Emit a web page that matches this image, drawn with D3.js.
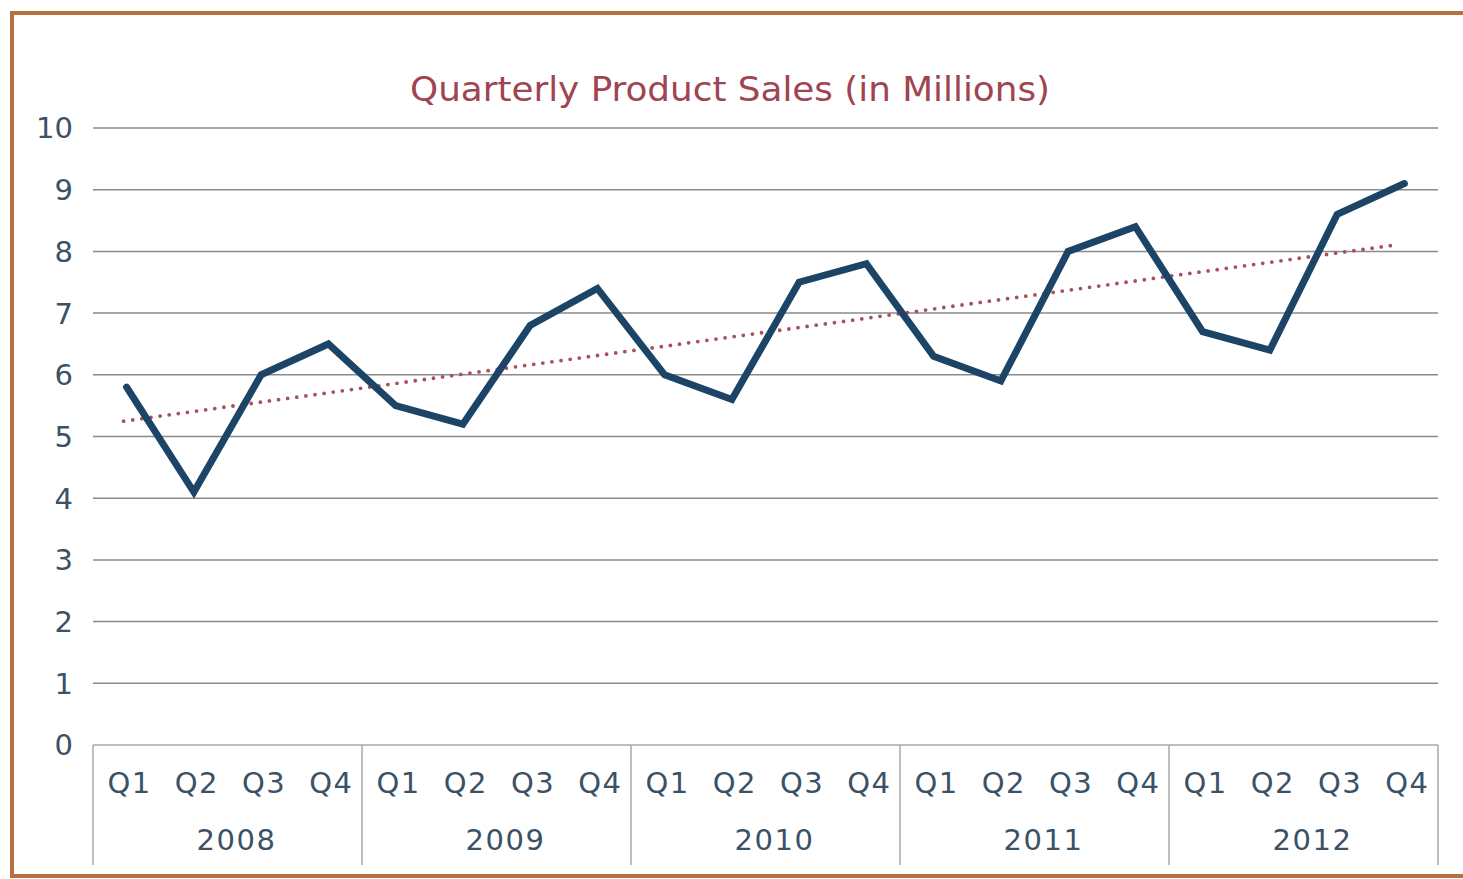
<!DOCTYPE html>
<html><head><meta charset="utf-8">
<script src="https://cdn.jsdelivr.net/npm/d3@7"></script>
<style>body{margin:0;background:#fff;}svg{display:block;}</style>
</head><body>
<svg id="c" width="1463" height="879"></svg>
<script>
const years = ["2008","2009","2010","2011","2012"];
const quarters = ["Q1","Q2","Q3","Q4"];
const sales = [5.8,4.1,6.0,6.5, 5.5,5.2,6.8,7.4, 6.0,5.6,7.5,7.8, 6.3,5.9,8.0,8.4, 6.7,6.4,8.6,9.1];
const yTicks = [0,1,2,3,4,5,6,7,8,9,10];
const title = "Quarterly Product Sales (in Millions)";

const svg = d3.select("#c");
const font = "'DejaVu Sans', Roboto, sans-serif";
const textCol = "#3b5166";

// frame
svg.append("rect").attr("x",12).attr("y",13).attr("width",1470).attr("height",863)
  .attr("fill","#fff").attr("stroke","#b8703e").attr("stroke-width",4);

const cats = [];
years.forEach(y => quarters.forEach(q => cats.push(y+"-"+q)));
const data = cats.map((c,i)=>({c, v:sales[i], i}));

const x = d3.scaleBand().domain(cats).range([93,1438]).padding(0);
const xYear = d3.scaleBand().domain(years).range([93,1438]);
const y = d3.scaleLinear().domain([0,10]).range([745,128]);

// gridlines
svg.append("g").selectAll("line").data(yTicks).join("line")
  .attr("x1",93).attr("x2",1438).attr("y1",d=>y(d)).attr("y2",d=>y(d))
  .attr("stroke",d=>d===0?"#a9a9a9":"#8a8a8a").attr("stroke-width",1.5);

// y labels
svg.append("g").selectAll("text").data(yTicks).join("text")
  .attr("x",73).attr("y",d=>y(d)).attr("dy","0.36em").attr("text-anchor","end")
  .attr("font-family",font).attr("font-size",29).attr("fill",textCol).text(d=>d);

// year separators
const seps = years.map(yr=>xYear(yr)).concat([xYear.range()[1]]);
svg.append("g").selectAll("line").data(seps).join("line")
  .attr("x1",d=>d).attr("x2",d=>d).attr("y1",745).attr("y2",865)
  .attr("stroke","#a9a9a9").attr("stroke-width",1.5);

// quarter labels
svg.append("g").selectAll("text").data(data).join("text")
  .attr("x",d=>x(d.c)+x.bandwidth()/2+3).attr("y",783).attr("dy","0.36em")
  .attr("text-anchor","middle").attr("font-family",font).attr("font-size",29)
  .attr("letter-spacing",1.5).attr("fill",textCol).text(d=>quarters[d.i%4]);

// year labels
svg.append("g").selectAll("text").data(years).join("text")
  .attr("x",d=>xYear(d)+xYear.bandwidth()/2+9).attr("y",840).attr("dy","0.36em")
  .attr("text-anchor","middle").attr("font-family",font).attr("font-size",29)
  .attr("letter-spacing",1.5).attr("fill",textCol).text(d=>d);

// trendline (least squares)
const n = sales.length;
const mx = d3.mean(data,d=>d.i), my = d3.mean(sales);
const slope = d3.sum(data,d=>(d.i-mx)*(d.v-my))/d3.sum(data,d=>(d.i-mx)**2);
const icpt = my - slope*mx;
const cx = d => x(cats[d])+x.bandwidth()/2;
svg.append("line")
  .attr("x1",cx(0)-3).attr("y1",y(icpt))
  .attr("x2",cx(n-1)-6).attr("y2",y(icpt+slope*(n-1)))
  .attr("stroke","#a5505c").attr("stroke-width",3.8)
  .attr("stroke-linecap","round").attr("stroke-dasharray","0 9.2");

// main line
const line = d3.line().x(d=>x(d.c)+x.bandwidth()/2).y(d=>y(d.v));
svg.append("path").datum(data).attr("d",line).attr("fill","none")
  .attr("stroke","#1c4466").attr("stroke-width",7).attr("stroke-linejoin","miter")
  .attr("stroke-linecap","round");

// title
svg.append("text").attr("x",730).attr("y",89).attr("dy","0.36em").attr("text-anchor","middle")
  .attr("font-family",font).attr("font-size",33).attr("fill","#a04452")
  .attr("textLength",640).attr("lengthAdjust","spacingAndGlyphs").text(title);
</script>
</body></html>
